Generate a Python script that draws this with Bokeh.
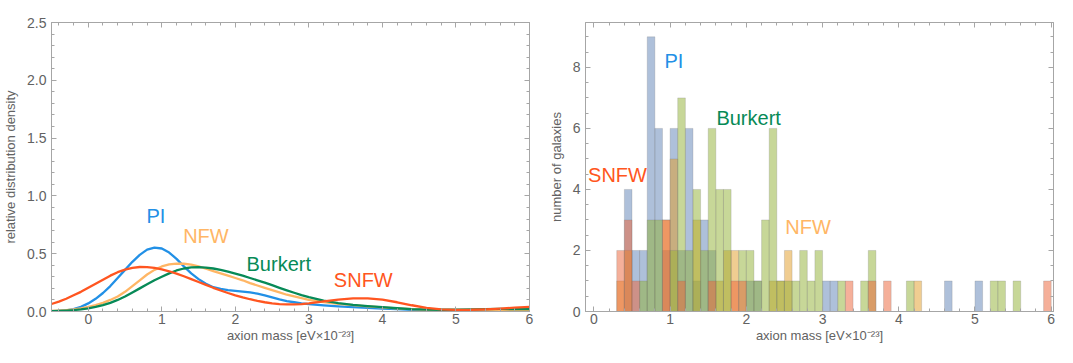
from bokeh.plotting import figure
from bokeh.layouts import row
from bokeh.models import LinearAxis, FixedTicker, Range1d, CustomJSTickFormatter, PrintfTickFormatter
from bokeh.core.properties import value
from bokeh.embed import file_html
from bokeh.resources import INLINE

# ---------------- data: left panel (relative distribution density) ----------------
mass_grid = [-0.5, -0.4, -0.3, -0.2, -0.1, 0.0, 0.1, 0.2, 0.3, 0.4, 0.5, 0.6, 0.7, 0.8, 0.9, 1.0,
             1.1, 1.2, 1.3, 1.4, 1.5, 1.6, 1.7, 1.8, 1.9, 2.0, 2.1, 2.2, 2.3, 2.4, 2.5, 2.6, 2.7,
             2.8, 2.9, 3.0, 3.2, 3.4, 3.6, 3.8, 4.0, 4.2, 4.4, 4.6, 4.8, 5.0, 5.2, 5.4, 5.6, 5.8, 6.0]
pi_density = [0.003, 0.005, 0.01, 0.02, 0.04, 0.07, 0.11, 0.16, 0.22, 0.29, 0.36, 0.43, 0.49, 0.535,
              0.553, 0.545, 0.51, 0.455, 0.39, 0.33, 0.28, 0.24, 0.21, 0.195, 0.185, 0.178, 0.172,
              0.165, 0.155, 0.14, 0.122, 0.105, 0.09, 0.08, 0.07, 0.063, 0.053, 0.045, 0.037, 0.031,
              0.025, 0.02, 0.015, 0.012, 0.01, 0.01, 0.01, 0.01, 0.011, 0.012, 0.014]
nfw_density = [0.005, 0.008, 0.012, 0.018, 0.027, 0.04, 0.055, 0.075, 0.10, 0.13, 0.17, 0.22, 0.27,
               0.32, 0.36, 0.39, 0.408, 0.415, 0.413, 0.405, 0.39, 0.37, 0.35, 0.33, 0.31, 0.29,
               0.27, 0.245, 0.225, 0.205, 0.185, 0.165, 0.145, 0.13, 0.115, 0.10, 0.082, 0.066,
               0.055, 0.045, 0.035, 0.027, 0.02, 0.015, 0.012, 0.01, 0.01, 0.01, 0.01, 0.011, 0.012]
burkert_density = [0.003, 0.005, 0.008, 0.012, 0.018, 0.027, 0.04, 0.055, 0.075, 0.10, 0.13, 0.165,
                   0.2, 0.235, 0.27, 0.30, 0.33, 0.355, 0.372, 0.381, 0.383, 0.38, 0.372, 0.36, 0.345,
                   0.328, 0.31, 0.29, 0.27, 0.25, 0.228, 0.205, 0.183, 0.162, 0.142, 0.124, 0.095,
                   0.073, 0.057, 0.046, 0.037, 0.028, 0.021, 0.017, 0.015, 0.016, 0.018, 0.021, 0.022,
                   0.021, 0.02]
snfw_density = [0.065, 0.085, 0.11, 0.14, 0.17, 0.205, 0.24, 0.275, 0.31, 0.34, 0.362, 0.378, 0.385,
                0.384, 0.377, 0.365, 0.348, 0.328, 0.305, 0.28, 0.255, 0.23, 0.205, 0.182, 0.16, 0.14,
                0.122, 0.106, 0.092, 0.08, 0.07, 0.064, 0.061, 0.061, 0.064, 0.07, 0.087, 0.103, 0.113,
                0.113, 0.102, 0.08, 0.054, 0.032, 0.018, 0.014, 0.015, 0.019, 0.025, 0.033, 0.04]

# ---------------- data: right panel (histograms, bin width 0.1, by bin start) ----------------
bin_width = 0.1
pi_bins = [0.4, 0.5, 0.6, 0.7, 0.8, 0.9, 1.0, 1.1, 1.2, 1.3, 1.4, 1.5, 2.0, 2.1, 3.0, 3.1, 4.6, 5.0]
pi_counts = [4, 2, 2, 9, 6, 2, 6, 2, 6, 1, 3, 2, 1, 1, 1, 1, 1, 1]
nfw_bins = [0.3, 0.4, 0.9, 1.0, 1.3, 1.6, 1.7, 1.8, 2.3, 2.4, 2.5, 4.2]
nfw_counts = [1, 2, 3, 5, 3, 1, 2, 2, 1, 1, 2, 1]
burkert_bins = [0.6, 0.7, 0.8, 1.0, 1.1, 1.2, 1.3, 1.4, 1.5, 1.6, 1.7, 1.9, 2.0, 2.1, 2.2, 2.3, 2.4,
                2.5, 2.6, 2.7, 2.8, 2.9, 3.2, 3.5, 3.6, 4.1, 5.2, 5.3, 5.5]
burkert_counts = [1, 3, 3, 2, 7, 2, 4, 2, 6, 4, 4, 2, 2, 1, 3, 6, 1, 1, 1, 2, 1, 2, 1, 1, 2, 1, 1, 1, 1]
snfw_bins = [0.3, 0.4, 0.5, 0.9, 1.1, 1.5, 1.8, 1.9, 3.3, 3.6, 3.8, 5.9]
snfw_counts = [2, 3, 1, 3, 1, 1, 1, 1, 1, 1, 1, 1]

# ---------------- ticks / labels ----------------
left_xticks = [0, 1, 2, 3, 4, 5, 6]
left_yticks = [0.0, 0.5, 1.0, 1.5, 2.0, 2.5]
right_xticks = [0, 1, 2, 3, 4, 5, 6]
right_yticks = [0, 2, 4, 6, 8]
model_names = ["PI", "NFW", "Burkert", "SNFW"]
x_title = "axion mass [eV×10⁻²³]"

FONT = "Liberation Sans"
AXC = "#a6a6a6"
TXT = "#626262"
curve_colors = {"PI": "#2290e6", "NFW": "#ffb665", "Burkert": "#078a57", "SNFW": "#ff5520"}
hist_colors = {"PI": "#5e81b5", "NFW": "#e19c24", "Burkert": "#8fb032", "SNFW": "#eb6235"}


def style(p, xt, yt, xminor, yminor):
    p.outline_line_color = AXC
    p.xgrid.visible = False
    p.ygrid.visible = False
    p.background_fill_color = "white"
    p.border_fill_color = "white"
    bottom = p.below[0]
    left = p.left[0]
    bottom.ticker = FixedTicker(ticks=xt, minor_ticks=xminor)
    left.ticker = FixedTicker(ticks=yt, minor_ticks=yminor)
    top = LinearAxis(ticker=FixedTicker(ticks=xt, minor_ticks=xminor),
                     formatter=CustomJSTickFormatter(code="return ''"), major_label_standoff=0)
    right = LinearAxis(ticker=FixedTicker(ticks=yt, minor_ticks=yminor),
                       formatter=CustomJSTickFormatter(code="return ''"), major_label_standoff=0)
    p.add_layout(top, "above")
    p.add_layout(right, "right")
    for ax in [bottom, left, top, right]:
        ax.axis_line_color = AXC
        ax.major_tick_line_color = AXC
        ax.minor_tick_line_color = AXC
        ax.major_tick_in = 5
        ax.major_tick_out = 0
        ax.minor_tick_in = 3
        ax.minor_tick_out = 0
        ax.major_label_text_font = FONT
        ax.major_label_text_font_size = "14px"
        ax.major_label_text_color = TXT
        ax.axis_label_text_font = FONT
        ax.axis_label_text_font_size = "13px"
        ax.axis_label_text_font_style = "normal"
        ax.axis_label_text_color = TXT
    for ax in [top, right]:
        ax.major_label_text_font_size = "1px"
        ax.axis_label_standoff = 0
    bottom.major_label_standoff = 2
    bottom.axis_label_standoff = 1
    left.major_label_standoff = 5
    left.axis_label_standoff = 6
    return bottom, left


# ---------------- left panel ----------------
p1 = figure(width=545, height=347, min_border_left=50, min_border_right=16,
            min_border_top=22, min_border_bottom=36, x_range=Range1d(-0.5, 6.0),
            y_range=Range1d(0, 2.5), output_backend="svg", toolbar_location=None)
b1, l1 = style(p1, left_xticks, left_yticks,
               [round(-0.4 + 0.2 * i, 1) for i in range(33)], [round(0.1 * i, 1) for i in range(26)])
b1.axis_label = x_title
l1.axis_label = "relative distribution density"
l1.formatter = PrintfTickFormatter(format="%.1f")

for name, ys in zip(model_names, [pi_density, nfw_density, burkert_density, snfw_density]):
    p1.line(mass_grid, ys, line_color=curve_colors[name], line_width=2.3, line_join="round")

left_label_x = [0.92, 1.60, 2.59, 3.74]
left_label_y = [0.83, 0.65, 0.41, 0.27]
for name, lx, ly in zip(model_names, left_label_x, left_label_y):
    p1.text(x=[lx], y=[ly], text=[name], text_color=curve_colors[name], text_font=value(FONT),
            text_font_size="20px", text_align="center", text_baseline="middle")

# ---------------- right panel ----------------
p2 = figure(width=512, height=347, min_border_left=36, min_border_right=4,
            min_border_top=11, min_border_bottom=36, x_range=Range1d(-0.11, 6.03),
            y_range=Range1d(0, 9.47), output_backend="svg", toolbar_location=None)
b2, l2 = style(p2, right_xticks, right_yticks,
               [round(0.2 * i, 1) for i in range(31)], [round(0.5 * i, 1) for i in range(19)])
b2.axis_label = x_title
l2.axis_label = "number of galaxies"

for name, bins, counts in zip(model_names, [pi_bins, nfw_bins, burkert_bins, snfw_bins],
                              [pi_counts, nfw_counts, burkert_counts, snfw_counts]):
    centers = [b + bin_width / 2 for b in bins]
    p2.vbar(x=centers, width=bin_width, top=counts, bottom=0, fill_color=hist_colors[name],
            fill_alpha=0.5, line_color="#7a7a7a", line_alpha=0.3, line_width=0.8)

right_label_x = [1.05, 2.81, 2.03, 0.31]
right_label_y = [8.2, 2.77, 6.35, 4.46]
for name, lx, ly in zip(model_names, right_label_x, right_label_y):
    p2.text(x=[lx], y=[ly], text=[name], text_color=curve_colors[name], text_font=value(FONT),
            text_font_size="20px", text_align="center", text_baseline="middle")

layout = row(p1, p2)
open("out.html", "w").write(file_html(layout, INLINE))
